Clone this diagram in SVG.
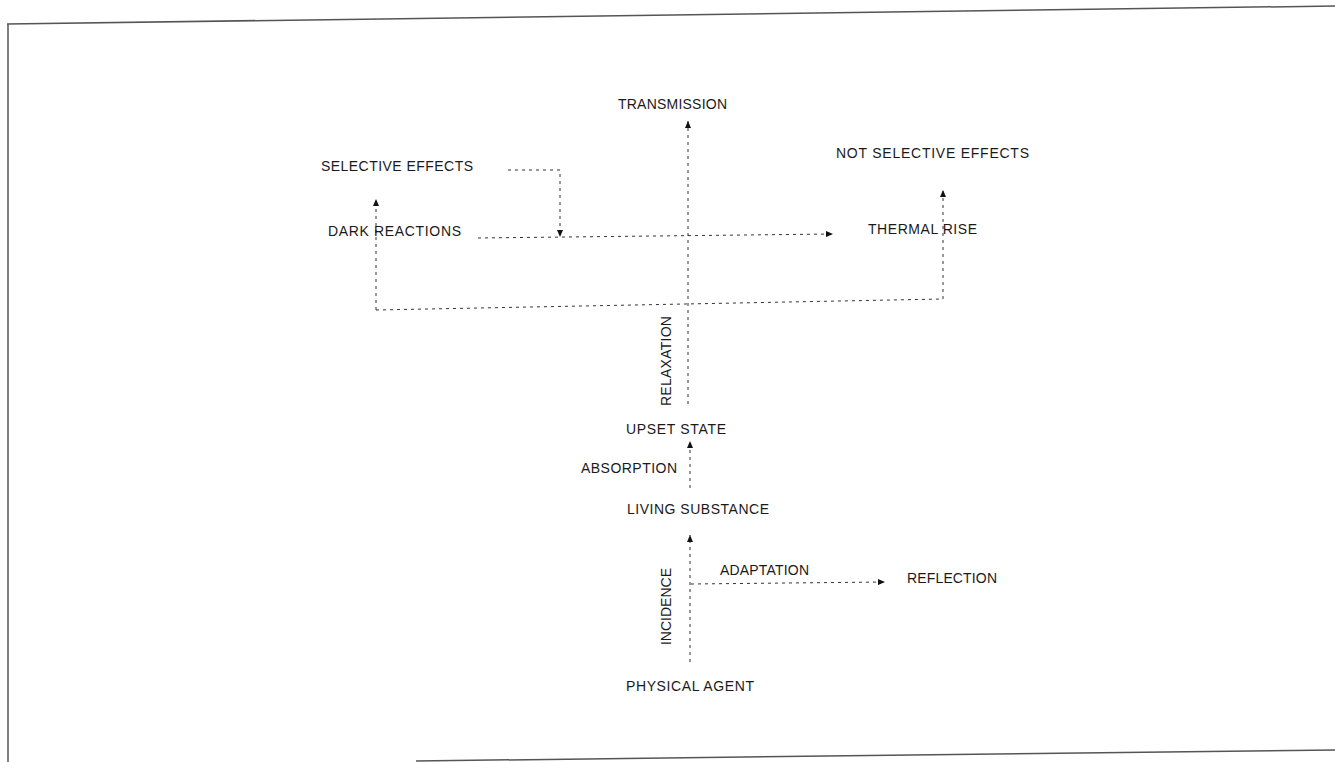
<svg xmlns="http://www.w3.org/2000/svg" width="1335" height="762" viewBox="0 0 1335 762">
<style>
.t{font-family:"Liberation Sans",Arial,sans-serif;font-size:14px;fill:#1a1a1a}
.c{fill:none;stroke:#333;stroke-width:1;stroke-dasharray:3 4}
.b{fill:none;stroke:#555;stroke-width:1.5}
</style>
<defs>
<marker id="ah" markerUnits="userSpaceOnUse" markerWidth="8" markerHeight="6" refX="7" refY="3" orient="auto">
<path d="M0,0 L7,3 L0,6 z" fill="#111"/>
</marker>
</defs>
<rect width="1335" height="762" fill="#fff"/>
<g id="frame">
<path class="b" d="M7,24 L1335,6"/>
<path class="b" d="M8,24 V762"/>
<path class="b" d="M416,761 L1335,750"/>
</g>
<g id="connectors">
<path class="c" d="M688,404 V121" marker-end="url(#ah)"/>
<path class="c" d="M508,170 H560 V237" marker-end="url(#ah)"/>
<path class="c" d="M478,238 L833,234" marker-end="url(#ah)"/>
<path class="c" d="M376,310 V199" marker-end="url(#ah)"/>
<path class="c" d="M376,310 L943,299"/>
<path class="c" d="M943,299 V190" marker-end="url(#ah)"/>
<path class="c" d="M690,488 V441" marker-end="url(#ah)"/>
<path class="c" d="M690,662 V535" marker-end="url(#ah)"/>
<path class="c" d="M691,584 L885,582" marker-end="url(#ah)"/>
</g>
<g id="transmission"><text class="t" x="618" y="109" textLength="109" lengthAdjust="spacing">TRANSMISSION</text></g>
<g id="selective-effects"><text class="t" x="321" y="171" textLength="152" lengthAdjust="spacing">SELECTIVE EFFECTS</text></g>
<g id="not-selective-effects"><text class="t" x="836" y="158" textLength="193" lengthAdjust="spacing">NOT SELECTIVE EFFECTS</text></g>
<g id="dark-reactions"><text class="t" x="328" y="236" textLength="133" lengthAdjust="spacing">DARK REACTIONS</text></g>
<g id="thermal-rise"><text class="t" x="868" y="234" textLength="109" lengthAdjust="spacing">THERMAL RISE</text></g>
<g id="relaxation"><text class="t" transform="translate(671,406) rotate(-90)" textLength="90" lengthAdjust="spacing">RELAXATION</text></g>
<g id="upset-state"><text class="t" x="626" y="434" textLength="100" lengthAdjust="spacing">UPSET STATE</text></g>
<g id="absorption"><text class="t" x="581" y="473" textLength="96" lengthAdjust="spacing">ABSORPTION</text></g>
<g id="living-substance"><text class="t" x="627" y="514" textLength="142" lengthAdjust="spacing">LIVING SUBSTANCE</text></g>
<g id="incidence"><text class="t" transform="translate(671,645) rotate(-90)" textLength="77" lengthAdjust="spacing">INCIDENCE</text></g>
<g id="adaptation"><text class="t" x="720" y="575" textLength="89" lengthAdjust="spacing">ADAPTATION</text></g>
<g id="reflection"><text class="t" x="907" y="583" textLength="90" lengthAdjust="spacing">REFLECTION</text></g>
<g id="physical-agent"><text class="t" x="626" y="691" textLength="128" lengthAdjust="spacing">PHYSICAL AGENT</text></g>
</svg>
